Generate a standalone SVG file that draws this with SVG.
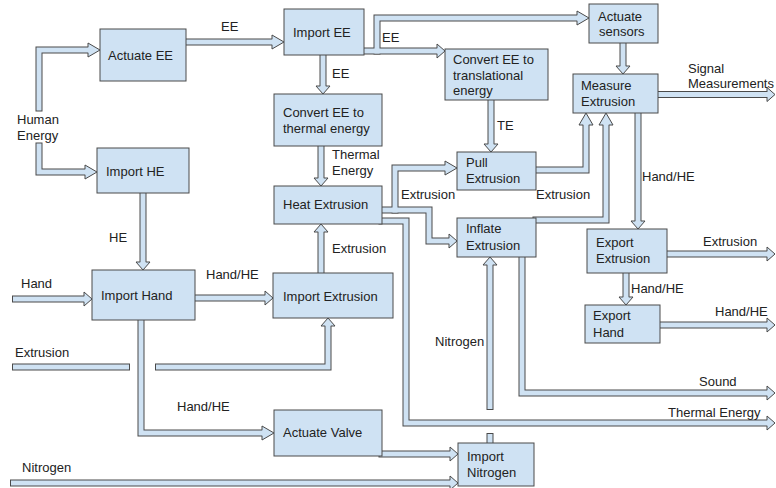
<svg xmlns="http://www.w3.org/2000/svg" width="776" height="488" viewBox="0 0 776 488">
<style>
text{font-family:"Liberation Sans",Arial,sans-serif;font-size:13px;fill:#222}
.box{fill:#cfe2f3;stroke:#4a4a4a;stroke-width:1}
.o{fill:none;stroke:#4a4a4a;stroke-width:7;stroke-linecap:square;stroke-linejoin:miter}
.i{fill:none;stroke:#cfe2f3;stroke-width:5;stroke-linecap:square;stroke-linejoin:miter}
.ah{fill:#cfe2f3;stroke:#4a4a4a;stroke-width:1;stroke-linejoin:miter}
</style>
<defs>
<marker id="a" markerUnits="userSpaceOnUse" orient="auto" refX="0" refY="0" viewBox="-2 -9 12 18" markerWidth="12" markerHeight="18" overflow="visible">
<path class="ah" d="M0,-2.5 L0,-7 L8,0 L0,7 L0,2.5"/>
</marker>
<marker id="b" markerUnits="userSpaceOnUse" orient="auto" refX="0" refY="0" viewBox="-2 -9 16 18" markerWidth="16" markerHeight="18" overflow="visible">
<path class="ah" d="M0,-2.5 L0,-7 L12,0 L0,7 L0,2.5"/>
</marker>
</defs>
<rect width="776" height="488" fill="#fff"/>
<g id="connectors">
<g id="c1"><path class="o" d="M39,108 V50 H88" marker-end="url(#b)"/><path class="i" d="M39,108 V50 H88"/></g>
<g id="c2"><path class="o" d="M39,146 V172 H85" marker-end="url(#b)"/><path class="i" d="M39,146 V172 H85"/><text x="17" y="124">Human</text><text x="17" y="140">Energy</text></g>
<g id="c3"><path class="o" d="M186,42 H272" marker-end="url(#b)"/><path class="i" d="M186,42 H272"/><text x="221" y="31">EE</text></g>
<g id="c4"><path class="o" d="M323,55 V86" marker-end="url(#a)"/><path class="i" d="M323,55 V86"/><text x="332" y="78">EE</text></g>
<g id="c5"><path class="o" d="M364,51 H437" marker-end="url(#a)"/><path class="o" d="M377,51 V18 H577" marker-end="url(#b)"/><path class="i" d="M364,51 H437"/><path class="i" d="M377,51 V18 H577"/><text x="382" y="42">EE</text></g>
<g id="c6"><path class="o" d="M623,43 V66" marker-end="url(#a)"/><path class="i" d="M623,43 V66"/></g>
<g id="c7"><path class="o" d="M658,94.5 H767" marker-end="url(#a)"/><path class="i" d="M658,94.5 H767"/><text x="688" y="73">Signal</text><text x="688" y="88">Measurements</text></g>
<g id="c8"><path class="o" d="M491,100 V144" marker-end="url(#a)"/><path class="i" d="M491,100 V144"/><text x="497" y="130">TE</text></g>
<g id="c9"><path class="o" d="M321,146 V178" marker-end="url(#a)"/><path class="i" d="M321,146 V178"/><text x="332" y="159">Thermal</text><text x="332" y="175">Energy</text></g>
<g id="c10"><path class="o" d="M143,193 V262" marker-end="url(#a)"/><path class="i" d="M143,193 V262"/><text x="109" y="242">HE</text></g>
<g id="c11"><path class="o" d="M15.5,299 H84" marker-end="url(#a)"/><path class="i" d="M15.5,299 H84"/><text x="21" y="288">Hand</text></g>
<g id="c12"><path class="o" d="M195,298 H265" marker-end="url(#a)"/><path class="i" d="M195,298 H265"/><text x="206" y="279">Hand/HE</text></g>
<g id="c13"><path class="o" d="M321,273 V232" marker-end="url(#a)"/><path class="i" d="M321,273 V232"/><text x="332" y="253">Extrusion</text></g>
<g id="c14"><path class="o" d="M15.5,367 H126.5"/><path class="o" d="M158.5,367 H328 V326" marker-end="url(#a)"/><path class="i" d="M15.5,367 H126.5"/><path class="i" d="M158.5,367 H328 V326"/><text x="15" y="357">Extrusion</text></g>
<g id="c15"><path class="o" d="M141,320 V433 H262" marker-end="url(#b)"/><path class="i" d="M141,320 V433 H262"/><text x="177" y="411">Hand/HE</text></g>
<g id="c16"><path class="o" d="M382,454 H450" marker-end="url(#a)"/><path class="i" d="M382,454 H450"/></g>
<g id="c17"><path class="o" d="M13.5,483 H450" marker-end="url(#a)"/><path class="i" d="M13.5,483 H450"/><text x="22" y="472">Nitrogen</text></g>
<g id="c18"><path class="o" d="M490,443 V436.5"/><path class="o" d="M490,406.5 V265" marker-end="url(#a)"/><path class="i" d="M490,443 V436.5"/><path class="i" d="M490,406.5 V265"/><text x="435" y="346">Nitrogen</text></g>
<g id="c19"><path class="o" d="M382,221 H406 V423 H767" marker-end="url(#a)"/><path class="i" d="M382,221 H406 V423 H767"/><text x="668" y="417">Thermal Energy</text></g>
<g id="c20"><path class="o" d="M382,210 H429 V241 H449" marker-end="url(#a)"/><path class="o" d="M395,210 V168 H445" marker-end="url(#b)"/><path class="i" d="M382,210 H429 V241 H449"/><path class="i" d="M395,210 V168 H445"/><text x="401" y="199">Extrusion</text></g>
<g id="c21"><path class="o" d="M536,170 H586 V125" marker-end="url(#b)"/><path class="i" d="M536,170 H586 V125"/><text x="536" y="199">Extrusion</text></g>
<g id="c22"><path class="o" d="M536,220 H606 V125" marker-end="url(#b)"/><path class="i" d="M536,220 H606 V125"/></g>
<g id="c23"><path class="o" d="M638,113 V221" marker-end="url(#a)"/><path class="i" d="M638,113 V221"/><text x="642" y="181">Hand/HE</text></g>
<g id="c24"><path class="o" d="M667,254 H767" marker-end="url(#a)"/><path class="i" d="M667,254 H767"/><text x="703" y="246">Extrusion</text></g>
<g id="c25"><path class="o" d="M626,273 V297" marker-end="url(#a)"/><path class="i" d="M626,273 V297"/><text x="631" y="293">Hand/HE</text></g>
<g id="c26"><path class="o" d="M660,325 H767" marker-end="url(#a)"/><path class="i" d="M660,325 H767"/><text x="715" y="316">Hand/HE</text></g>
<g id="c27"><path class="o" d="M522,257 V393 H767" marker-end="url(#a)"/><path class="i" d="M522,257 V393 H767"/><text x="699" y="386">Sound</text></g>
</g>
<g id="n-actuate-ee"><rect class="box" x="100" y="29" width="86" height="52"/><text x="108" y="60">Actuate EE</text></g>
<g id="n-import-ee"><rect class="box" x="284" y="9" width="80" height="46"/><text x="293" y="37">Import EE</text></g>
<g id="n-convert-thermal"><rect class="box" x="274" y="94" width="108" height="52"/><text x="283" y="117">Convert EE to</text><text x="283" y="133">thermal energy</text></g>
<g id="n-convert-trans"><rect class="box" x="445" y="49" width="103" height="51"/><text x="453" y="64">Convert EE to</text><text x="453" y="80">translational</text><text x="453" y="95">energy</text></g>
<g id="n-actuate-sensors"><rect class="box" x="589" y="4" width="69" height="39"/><text x="598" y="21">Actuate</text><text x="599" y="36">sensors</text></g>
<g id="n-measure"><rect class="box" x="573" y="74" width="85" height="39"/><text x="581" y="90">Measure</text><text x="581" y="106">Extrusion</text></g>
<g id="n-import-he"><rect class="box" x="97" y="148" width="92" height="45"/><text x="106" y="176">Import HE</text></g>
<g id="n-import-hand"><rect class="box" x="92" y="270" width="103" height="50"/><text x="101" y="300">Import Hand</text></g>
<g id="n-heat"><rect class="box" x="274" y="186" width="108" height="38"/><text x="283" y="209">Heat Extrusion</text></g>
<g id="n-import-extrusion"><rect class="box" x="273" y="273" width="120" height="45"/><text x="283" y="301">Import Extrusion</text></g>
<g id="n-pull"><rect class="box" x="457" y="152" width="79" height="38"/><text x="466" y="167">Pull</text><text x="466" y="183">Extrusion</text></g>
<g id="n-inflate"><rect class="box" x="457" y="218" width="79" height="39"/><text x="466" y="233">Inflate</text><text x="466" y="250">Extrusion</text></g>
<g id="n-export-extrusion"><rect class="box" x="587" y="229" width="80" height="44"/><text x="596" y="247">Export</text><text x="596" y="263">Extrusion</text></g>
<g id="n-export-hand"><rect class="box" x="585" y="305" width="75" height="38"/><text x="593" y="320">Export</text><text x="593" y="337">Hand</text></g>
<g id="n-actuate-valve"><rect class="box" x="274" y="410" width="108" height="46"/><text x="283" y="437">Actuate Valve</text></g>
<g id="n-import-nitrogen"><rect class="box" x="458" y="443" width="76" height="43"/><text x="467" y="461">Import</text><text x="467" y="477">Nitrogen</text></g>
</svg>
